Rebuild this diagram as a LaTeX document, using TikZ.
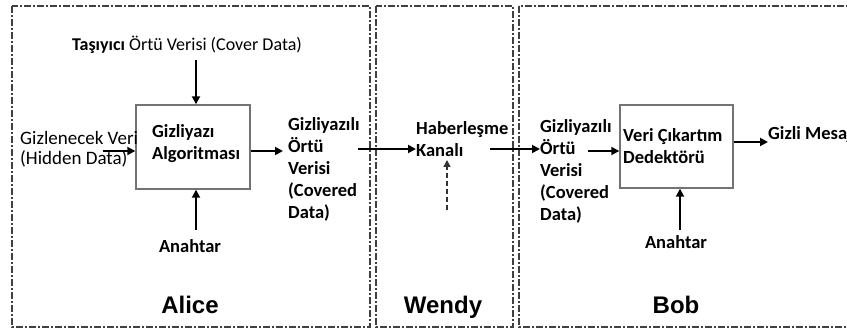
\documentclass[tikz,border=0pt]{standalone}
\usepackage{fontspec}
\setmainfont{Carlito}
\newfontfamily\labelfont{Liberation Sans}
\usetikzlibrary{arrows.meta}
\begin{document}
\begin{tikzpicture}[x=1pt,y=-1pt,
  frame/.style={draw=black!75,line width=1.3pt,dash pattern=on 7pt off 2pt on 2pt off 2pt},
  procbox/.style={draw=black!55,line width=1.4pt,fill=white},
  arr/.style={draw=black,line width=1.8pt,-{Triangle[length=8pt,width=8pt]}},
  darr/.style={draw=black!80,line width=1.4pt,dash pattern=on 5pt off 3pt,-{Triangle[length=7pt,width=7pt]}},
  txt/.style={font=\fontsize{18.5}{22}\selectfont\bfseries,inner sep=0pt,align=left},
  rtxt/.style={font=\fontsize{18}{18}\selectfont,inner sep=0pt,align=left},
  hidtxt/.style={font=\fontsize{19}{19.5}\selectfont,inner sep=0pt,align=left},
  bigname/.style={font=\labelfont\bfseries\fontsize{24}{26}\selectfont,inner sep=0pt}]
\useasboundingbox (0,0) rectangle (847,331);
\clip (0,0) rectangle (847,331);
\fill[white] (0,0) rectangle (847,331);
% frames
\draw[frame] (12,6) rectangle (370,327);
\draw[frame] (376,6) rectangle (513,327);
\draw[frame] (519,6) rectangle (900,327);
% Alice
\node[procbox,minimum width=114pt,minimum height=84pt] (alg) at (193,147) {};
\node[txt,anchor=west] (algtxt) at (152,144) {Gizliyazı\\Algoritması};
\node[rtxt,anchor=base] (cover) at (187,51) {\textbf{Taşıyıcı} Örtü Verisi (Cover Data)};
\node[hidtxt,anchor=west] (hidden) at (20,149) {Gizlenecek Veri\\(Hidden Data)};
\node[txt,anchor=west] (covered1) at (288,169) {Gizliyazılı\\Örtü\\Verisi\\(Covered\\Data)};
\node[txt,anchor=base] (key1) at (190,253) {Anahtar};
\node[bigname,anchor=base] (alice) at (190,314) {Alice};
\coordinate (covtop) at (196,60);
\coordinate (hidstart) at (103,151);
\coordinate (key1top) at (196,230);
\draw[arr] (covtop) -- (covtop |- alg.north);
\draw[arr] (hidstart) -- (hidstart -| alg.west);
\draw[arr] (alg.east |- 0,151) -- (283,151);
\draw[arr] (key1top) -- (key1top |- alg.south);
% Wendy
\node[txt,anchor=west] (chan) at (416,139) {Haberleşme\\Kanalı};
\node[bigname,anchor=base] (wendy) at (443,314) {Wendy};
\coordinate (c1s) at (358,149);
\coordinate (dashs) at (447,210);
\draw[arr] (c1s) -- (chan.west |- c1s);
\draw[darr] (dashs) -- (447,160);
\coordinate (c2s) at (490,149);
% Bob
\node[txt,anchor=west] (covered2) at (540,171) {Gizliyazılı\\Örtü\\Verisi\\(Covered\\Data)};
\node[procbox,minimum width=113pt,minimum height=83pt] (det) at (676.5,146.5) {};
\node[txt,anchor=west] (dettxt) at (623,146) {Veri Çıkartım\\Dedektörü};
\node[txt,anchor=west] (msg) at (768,135) {Gizli Mesaj};
\node[txt,anchor=base] (key2) at (676,249) {Anahtar};
\node[bigname,anchor=base] (bob) at (676,314) {Bob};
\draw[arr] (c2s) -- (covered2.west |- c2s);
\draw[arr] (588,151) -- (det.west |- 0,151);
\draw[arr] (det.east |- 0,142) -- (msg.west |- 0,142);
\coordinate (key2top) at (680,230);
\draw[arr] (key2top) -- (key2top |- det.south);
\end{tikzpicture}
\end{document}
